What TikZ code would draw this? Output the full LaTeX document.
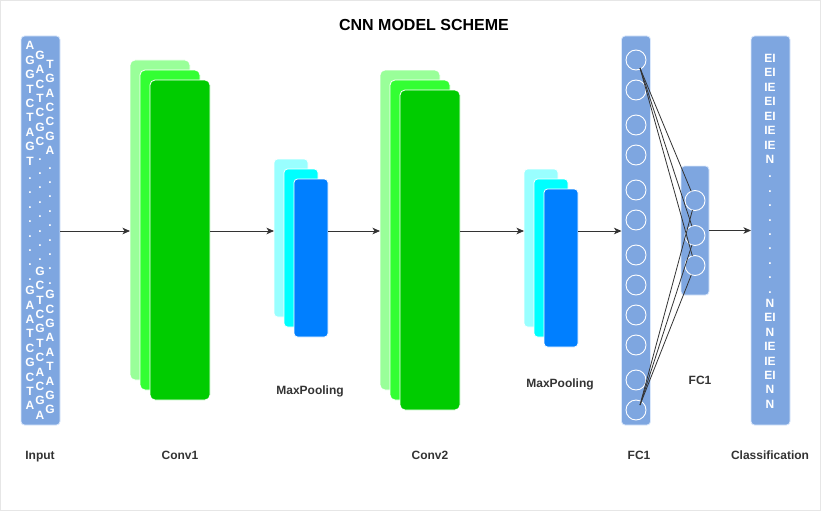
\documentclass[tikz,border=0pt]{standalone}
\usepackage{fontspec}
\setmainfont{Liberation Sans}
\usetikzlibrary{arrows.meta}
\definecolor{blu}{HTML}{7EA6E0}
\definecolor{bluline}{HTML}{DAE8FC}
\definecolor{gA}{HTML}{99FF99}
\definecolor{gB}{HTML}{33FF33}
\definecolor{gC}{HTML}{00CC00}
\definecolor{cA}{HTML}{99FFFF}
\definecolor{cB}{HTML}{00FFFF}
\definecolor{cC}{HTML}{007FFF}
\definecolor{ink}{HTML}{333333}
\definecolor{frame}{HTML}{E6E6E6}
\begin{document}
\begin{tikzpicture}[x=1pt,y=-1pt,
  conv/.style={draw=white,line width=0.8pt,rounded corners=5pt,minimum width=60pt,minimum height=320pt,inner sep=0pt,outer sep=0pt},
  pool/.style={draw=white,line width=0.8pt,rounded corners=3.5pt,minimum width=34pt,minimum height=158pt,inner sep=0pt,outer sep=0pt},
  col/.style={fill=blu,draw=bluline,line width=0.8pt,rounded corners=3.5pt,inner sep=0pt,outer sep=0pt},
  neuron/.style={circle,draw=white,line width=0.9pt,minimum size=20pt,inner sep=0pt,outer sep=0pt},
  arr/.style={draw=ink,line width=0.8pt,-{Stealth[length=7.5pt,width=6.5pt,inset=2pt]}},
  ln/.style={draw=ink,line width=0.8pt},
  chr/.style={text=white,font=\fontsize{12}{14.4}\selectfont\bfseries,anchor=base,inner sep=0pt},
  lab/.style={text=ink,font=\fontsize{12}{14.4}\selectfont\bfseries,anchor=base,inner sep=0pt},
  ttl/.style={text=black,font=\fontsize{16}{19}\selectfont\bfseries,anchor=base,inner sep=0pt}]
\useasboundingbox (0,0) rectangle (821,511);
\draw[frame,line width=1pt] (0.5,0.5) rectangle (820.5,510.5);

\node[ttl] (title) at (424,31) {CNN MODEL SCHEME};

% input column
\node[col,minimum width=39pt,minimum height=389pt] (in) at (40.5,230.5) {};
\foreach \c [count=\i from 0] in {A,G,G,T,C,T,A,G,T,.,.,.,.,.,.,.,.,G,A,A,T,C,G,C,T,A}
  \node[chr] (ia\i) at (30,45.5+14.4*\i+4.3) {\c};
\foreach \c [count=\i from 0] in {G,A,C,T,C,G,C,.,.,.,.,.,.,.,.,G,C,T,C,G,T,C,A,C,G,A}
  \node[chr] (ib\i) at (40,55+14.4*\i+4.3) {\c};
\foreach \c [count=\i from 0] in {T,G,A,C,C,G,A,.,.,.,.,.,.,.,.,.,G,C,G,A,A,T,A,G,G}
  \node[chr] (ic\i) at (50,64+14.4*\i+4.3) {\c};

% conv1
\node[conv,fill=gA] (c1a) at (160,220) {};
\node[conv,fill=gB] (c1b) at (170,230) {};
\node[conv,fill=gC] (c1c) at (180,240) {};
% pool1
\node[pool,fill=cA] (p1a) at (291,238) {};
\node[pool,fill=cB] (p1b) at (301,248) {};
\node[pool,fill=cC] (p1c) at (311,258) {};
% conv2
\node[conv,fill=gA] (c2a) at (410,230) {};
\node[conv,fill=gB] (c2b) at (420,240) {};
\node[conv,fill=gC] (c2c) at (430,250) {};
% pool2
\node[pool,fill=cA] (p2a) at (541,248) {};
\node[pool,fill=cB] (p2b) at (551,258) {};
\node[pool,fill=cC] (p2c) at (561,268) {};

% FC1 big
\node[col,minimum width=29pt,minimum height=389pt] (fcb) at (636,230.5) {};
\foreach \y [count=\i] in {60,90,125,155,190,220,255,285,315,345,380,410}
  \node[neuron] (b\i) at (636,\y) {};
% FC1 small
\node[col,minimum width=28pt,minimum height=129pt] (fcs) at (695,230.5) {};
\node[neuron] (s1) at (695,200.5) {};
\node[neuron] (s2) at (695,235.5) {};
\node[neuron] (s3) at (695,265.5) {};

% classification
\node[col,minimum width=39pt,minimum height=389pt] (cls) at (770.5,230.5) {};
\foreach \c [count=\i from 0] in {EI,EI,IE,EI,EI,IE,IE,N,.,.,.,.,.,.,.,.,.,N,EI,N,IE,IE,EI,N,N}
  \node[chr] (k\i) at (770,58.3+14.4*\i+4.3) {\c};

% connections between FC layers
\coordinate (q1) at (640,68);
\coordinate (q2) at (640,405);
\foreach \s in {s1,s2,s3} {
  \draw[ln] (q1) -- (\s);
  \draw[ln] (q2) -- (\s);
}

% arrows
\coordinate (row) at (0,231);
\draw[arr] (in.east |- row) -- (c1a.west |- row);
\draw[arr] (c1c.east |- row) -- (p1a.west |- row);
\draw[arr] (p1c.east |- row) -- (c2a.west |- row);
\draw[arr] (c2c.east |- row) -- (p2a.west |- row);
\draw[arr] (p2c.east |- row) -- (fcb.west |- row);
\draw[arr] (fcs.east) -- (cls.west |- fcs.east);

% labels
\node[lab] (l1) at (40,459) {Input};
\node[lab] (l2) at (180,459) {Conv1};
\node[lab] (l3) at (430,459) {Conv2};
\node[lab] (l4) at (639,459) {FC1};
\node[lab] (l5) at (770,459) {Classification};
\node[lab] (l6) at (310,394) {MaxPooling};
\node[lab] (l7) at (560,387) {MaxPooling};
\node[lab] (l8) at (700,384) {FC1};
\end{tikzpicture}
\end{document}
